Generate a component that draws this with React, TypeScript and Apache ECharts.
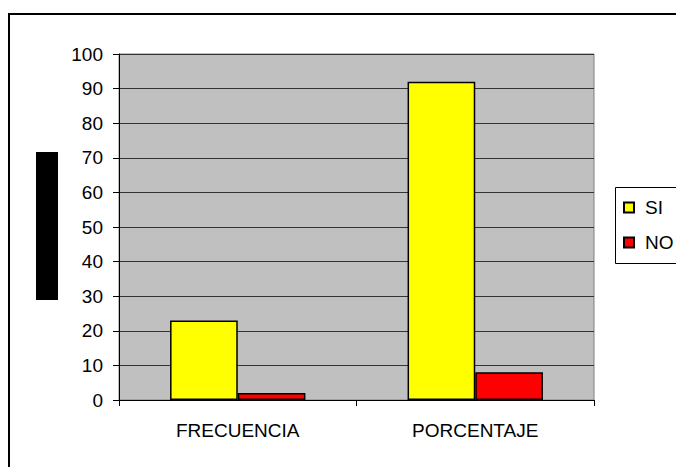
import React, { useEffect, useRef } from "react";
import * as echarts from "echarts";

const categories = ["FRECUENCIA", "PORCENTAJE"];
const siValues = [23, 92];
const noValues = [2, 8];
const seriesNames = ["SI", "NO"];

const FONT = "Arial, 'Liberation Sans', sans-serif";

export default function App() {
  const ref = useRef<HTMLDivElement>(null);
  useEffect(() => {
    if (!ref.current) return;
    const chart = echarts.init(ref.current, undefined, { renderer: "svg" });
    chart.setOption({
      animation: false,
      backgroundColor: "#ffffff",
      textStyle: { fontFamily: FONT },
      grid: {
        left: 119,
        top: 54,
        right: 82,
        bottom: 67,
        show: true,
        backgroundColor: "#c0c0c0",
        borderColor: "#808080",
        borderWidth: 1,
      },
      legend: {
        orient: "vertical",
        left: 623,
        top: 198,
        itemWidth: 10,
        itemHeight: 10,
        itemGap: 16,
        icon: "rect",
        padding: 0,
        data: seriesNames,
        textStyle: { fontSize: 19, color: "#000", fontFamily: FONT, padding: [0, 0, 0, 6] },
      },
      xAxis: {
        type: "category",
        data: categories,
        axisLine: { lineStyle: { color: "#000", width: 1 } },
        axisTick: { show: true, length: 6, lineStyle: { color: "#000" } },
        axisLabel: { color: "#000", fontSize: 19, margin: 21, fontFamily: FONT },
      },
      yAxis: {
        type: "value",
        min: 0,
        max: 100,
        interval: 10,
        axisLine: { show: true, lineStyle: { color: "#000", width: 1 } },
        axisTick: { show: true, length: 6, lineStyle: { color: "#000" } },
        axisLabel: { color: "#000", fontSize: 19, margin: 16, fontFamily: FONT },
        splitLine: { show: true, lineStyle: { color: "#333", width: 1 } },
      },
      series: [
        {
          name: seriesNames[0],
          type: "bar",
          data: siValues,
          barGap: "0%",
          barCategoryGap: "43%",
          itemStyle: { color: "#ffff00", borderColor: "#000", borderWidth: 1.5 },
        },
        {
          name: seriesNames[1],
          type: "bar",
          data: noValues,
          barGap: "0%",
          barCategoryGap: "43%",
          itemStyle: { color: "#ff0000", borderColor: "#000", borderWidth: 1.5 },
        },
      ],
      graphic: [
        {
          type: "rect",
          shape: { x: 9, y: 14, width: 720, height: 520 },
          style: { fill: "none", stroke: "#000", lineWidth: 2 },
          silent: true,
        },
        {
          type: "rect",
          shape: { x: 36, y: 152, width: 22, height: 148 },
          style: { fill: "#000" },
          silent: true,
        },
        {
          type: "rect",
          shape: { x: 615.5, y: 187.5, width: 100, height: 76 },
          style: { fill: "none", stroke: "#000", lineWidth: 1 },
          silent: true,
        },
      ],
    });
    return () => chart.dispose();
  }, []);
  return (
    <div
      ref={ref}
      style={{ position: "fixed", left: 0, top: 0, width: 676, height: 467 }}
    />
  );
}
